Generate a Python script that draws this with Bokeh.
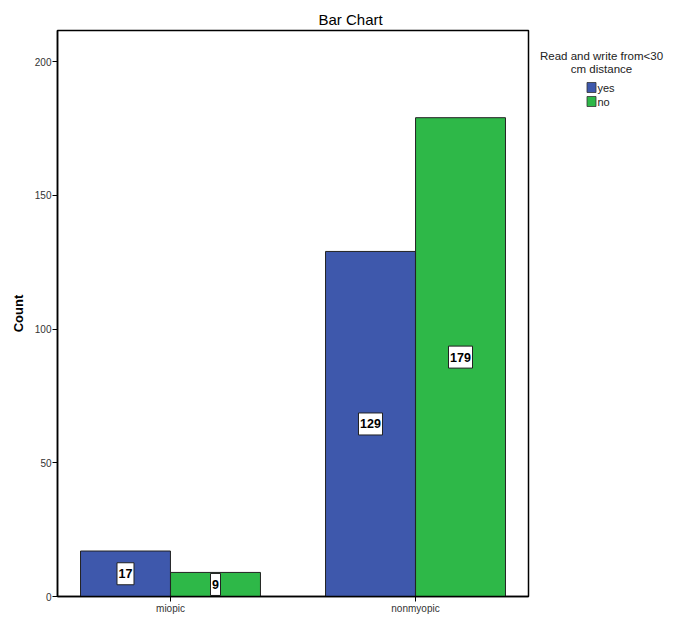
from bokeh.plotting import figure
from bokeh.models import ColumnDataSource, FactorRange, Range1d
from bokeh.transform import dodge
from bokeh.layouts import row
from bokeh.core.properties import value
from bokeh.embed import file_html
from bokeh.resources import INLINE

categories = ["miopic", "nonmyopic"]
group_labels = ["yes", "no"]
yes_counts = [17, 129]
no_counts = [9, 179]
y_ticks = [0, 50, 100, 150, 200]
legend_title = ["Read and write from<30", "cm distance"]

BLUE = "#3E58AC"
GREEN = "#2EB848"
FONT = "Liberation Sans"


def label_cols(vals):
    txt = [str(v) for v in vals]
    return dict(mid=[v / 2 for v in vals], txt=txt, box_w=[7 * len(t) + 3 for t in txt])


src = ColumnDataSource(dict(cat=categories, yes=yes_counts, no=no_counts))

xr = FactorRange(factors=categories, range_padding=-0.0388, range_padding_units="absolute")
p = figure(x_range=xr, y_range=Range1d(0, 211.6),
           frame_width=471, frame_height=566,
           min_border_left=57, min_border_right=2, min_border_top=30, min_border_bottom=19,
           output_backend="svg", toolbar_location=None,
           background_fill_color="white", border_fill_color="white")

p.title.text = "Bar Chart"
p.title.align = "left"
p.title.offset = 261
p.title.text_font = FONT
p.title.text_font_size = "15px"
p.title.text_font_style = "normal"
p.title.text_color = "black"
p.title.standoff = 5

p.outline_line_color = "black"
p.outline_line_width = 1.5
p.outline_line_alpha = 1
p.xgrid.grid_line_color = None
p.ygrid.grid_line_color = None

OFF = 0.1837
W = 0.367
r_yes = p.vbar(x=dodge("cat", -OFF, range=p.x_range), top="yes", width=W, source=src,
               fill_color=BLUE, line_color="#222222", line_width=1)
r_no = p.vbar(x=dodge("cat", OFF, range=p.x_range), top="no", width=W, source=src,
              fill_color=GREEN, line_color="#222222", line_width=1)

for xoff, vals in [(-OFF, yes_counts), (OFF, no_counts)]:
    d = label_cols(vals)
    d["cat"] = categories
    ls = ColumnDataSource(d)
    xx = dodge("cat", xoff, range=p.x_range)
    p.rect(x=xx, y="mid", width="box_w", height=22, width_units="screen",
           height_units="screen", source=ls, fill_color="white",
           line_color="#222222", line_width=1)
    p.text(x=xx, y="mid", text="txt", source=ls, text_align="center",
           text_baseline="middle", text_font=value(FONT), text_font_size="12.5px",
           text_font_style="bold", text_color="black")

for ax in (p.xaxis[0], p.yaxis[0]):
    ax.axis_line_color = "black"
    ax.axis_line_width = 1.5
    ax.major_tick_line_color = "black"
    ax.major_tick_line_width = 1
    ax.major_tick_in = 0
    ax.major_tick_out = 5
    ax.minor_tick_line_color = None
    ax.major_label_text_font = FONT
    ax.major_label_text_font_size = "10px"
    ax.major_label_text_color = "#333333"
    ax.major_label_standoff = 1

p.yaxis.ticker = y_ticks
p.yaxis.axis_label = "Count"
p.yaxis.axis_label_text_font = FONT
p.yaxis.axis_label_text_font_size = "13px"
p.yaxis.axis_label_text_font_style = "bold"
p.yaxis.axis_label_text_color = "black"
p.yaxis.axis_label_standoff = 6

# legend panel, coordinates in page pixels (y downward), aligned with main frame
LX0 = 530
LW = 156
leg = figure(frame_width=LW, frame_height=566,
             x_range=Range1d(LX0, LX0 + LW), y_range=Range1d(596, 30),
             min_border_left=0, min_border_right=0, min_border_top=30, min_border_bottom=19,
             output_backend="svg", toolbar_location=None,
             x_axis_location=None, y_axis_location=None,
             background_fill_color="white", border_fill_color="white")
leg.outline_line_color = None
leg.xgrid.grid_line_color = None
leg.ygrid.grid_line_color = None

title_src = ColumnDataSource(dict(x=[601, 601], y=[55, 68], t=legend_title))
leg.text(x="x", y="y", text="t", source=title_src, text_align="center",
         text_baseline="middle", text_font=value(FONT), text_font_size="11.5px",
         text_color="#222222")

item_src = ColumnDataSource(dict(x=[591, 591], y=[87, 101], c=[BLUE, GREEN],
                                 tx=[597, 597], t=group_labels))
leg.rect(x="x", y="y", width=9, height=10, width_units="screen", height_units="screen",
         source=item_src, fill_color="c", line_color="#333333", line_width=0.8)
leg.text(x="tx", y="y", text="t", source=item_src, text_align="left",
         text_baseline="middle", text_font=value(FONT), text_font_size="11px",
         text_color="#222222")

layout = row(p, leg)
open("out.html", "w").write(file_html(layout, INLINE))
